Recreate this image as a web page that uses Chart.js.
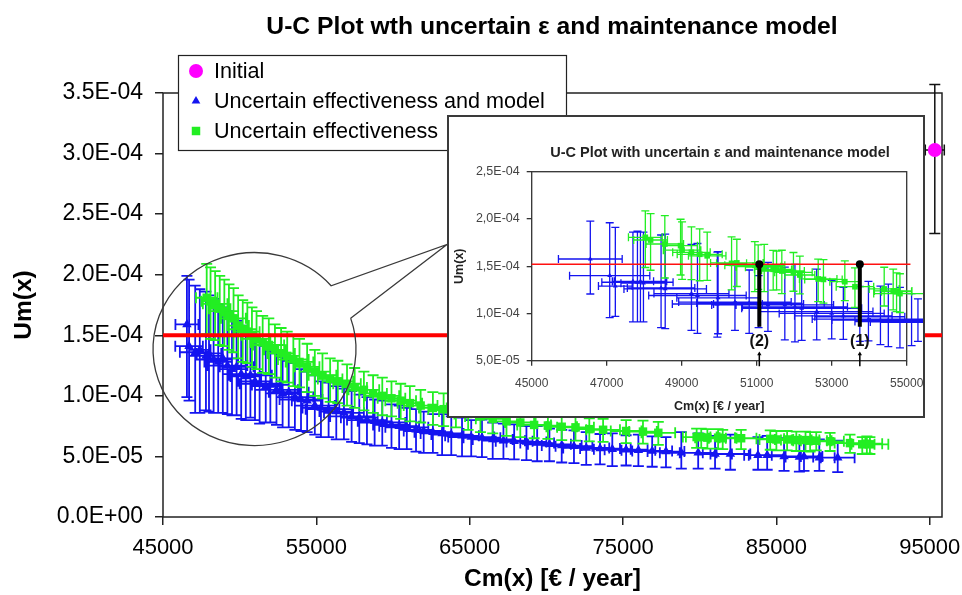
<!DOCTYPE html>
<html>
<head>
<meta charset="utf-8">
<script src="https://cdn.jsdelivr.net/npm/chart.js@4/dist/chart.umd.min.js"></script>
<style>
  html, body { margin: 0; padding: 0; background: #fff; }
  #wrap { position: relative; width: 962px; height: 595px; overflow: hidden; }
  #main { position: absolute; left: 0; top: 0; }
  #zoomBox { position: absolute; left: 447px; top: 115px; width: 478px; height: 303px;
             box-sizing: border-box; border: 2px solid #3a3a3a; background: #fff; overflow: hidden; }
  #inset { position: absolute; left: 0; top: 0; }
</style>
</head>
<body>
<div id="wrap">
  <canvas id="main" width="962" height="595"></canvas>
  <div id="zoomBox"><canvas id="inset" width="474" height="299"></canvas></div>
</div>
<script>
// ---------- data (Um values are given in units of 1e-4) ----------
const UM_UNIT = 1e-4;

const cmTicks = [45000, 55000, 65000, 75000, 85000, 95000];
const umTicks = [0, 0.5, 1.0, 1.5, 2.0, 2.5, 3.0, 3.5];
const umLimit = 1.5;

const initialCm = [95330];
const initialUm = [3.03];
const initialDx = [620];
const initialUp = [0.54];
const initialDn = [0.69];

// "Uncertain effectiveness and model"
const modelCm = [46560, 46700, 47100, 47400, 47800, 48000, 48300, 48600, 48900, 49200, 49500, 49800,
  50100, 50400, 50700, 51000, 51300, 51700, 52000, 52400, 52800, 53200, 53600, 54000, 54400, 54900,
  55300, 55800, 56300, 56800, 57300, 57800, 58300, 58800, 59300, 59900, 60400, 60900, 61500, 62000,
  62600, 63200, 63800, 64500, 65100, 65800, 66500, 67200, 67900, 68700, 69400, 70200, 71000, 71800,
  72600, 73500, 74300, 75200, 76000, 76900, 77800, 78800, 79900, 81000, 82000, 83800, 84400, 85500,
  86500, 86800, 87800, 89000];
const modelUm = [1.59, 1.41, 1.36, 1.38, 1.33, 1.35, 1.30, 1.28, 1.31, 1.25, 1.22, 1.24,
  1.18, 1.16, 1.17, 1.12, 1.10, 1.08, 1.09, 1.05, 1.02, 1.03, 0.99, 0.97, 0.96, 0.92,
  0.90, 0.89, 0.87, 0.86, 0.83, 0.82, 0.80, 0.79, 0.78, 0.76, 0.75, 0.74, 0.72, 0.71,
  0.70, 0.69, 0.68, 0.67, 0.66, 0.655, 0.64, 0.63, 0.625, 0.62, 0.61, 0.60, 0.59, 0.585,
  0.57, 0.565, 0.56, 0.555, 0.55, 0.545, 0.54, 0.53, 0.53, 0.52, 0.52, 0.51, 0.51, 0.50,
  0.495, 0.50, 0.49, 0.49];
const modelDx = [750, 900, 1000, 700, 1100, 800, 1200, 900, 1000, 1300, 900, 1100,
  1200, 1000, 1400, 1100, 1300, 1000, 1200, 1400, 1100, 1300, 1200, 1400, 1000, 1300,
  1200, 1500, 1100, 1300, 1400, 1200, 1300, 1100, 1500, 1200, 1300, 1400, 1100, 1300,
  1200, 1400, 1300, 1100, 1500, 1200, 1300, 1400, 1200, 1300, 1100, 1400, 1300, 1200,
  1500, 1300, 1200, 1400, 1100, 1300, 1200, 1400, 1200, 1100, 1300, 900, 1200, 1100,
  900, 1200, 1000, 1100];
const modelUp = [0.40, 0.55, 0.55, 0.50, 0.53, 0.48, 0.50, 0.47, 0.42, 0.45, 0.44, 0.38,
  0.40, 0.36, 0.33, 0.36, 0.32, 0.33, 0.28, 0.30, 0.30, 0.26, 0.28, 0.25, 0.24, 0.25,
  0.22, 0.22, 0.21, 0.20, 0.21, 0.19, 0.19, 0.18, 0.18, 0.17, 0.17, 0.16, 0.17, 0.16,
  0.15, 0.16, 0.15, 0.15, 0.14, 0.15, 0.14, 0.14, 0.14, 0.13, 0.14, 0.13, 0.13, 0.13,
  0.13, 0.12, 0.13, 0.12, 0.13, 0.12, 0.12, 0.17, 0.16, 0.15, 0.16, 0.15, 0.16, 0.15,
  0.15, 0.14, 0.15, 0.14];
const modelDn = [0.60, 0.45, 0.50, 0.52, 0.45, 0.48, 0.44, 0.42, 0.45, 0.40, 0.38, 0.40,
  0.37, 0.36, 0.35, 0.32, 0.33, 0.30, 0.31, 0.29, 0.28, 0.29, 0.27, 0.26, 0.26, 0.24,
  0.24, 0.23, 0.23, 0.22, 0.21, 0.21, 0.20, 0.20, 0.19, 0.19, 0.19, 0.18, 0.18, 0.18,
  0.17, 0.18, 0.17, 0.17, 0.16, 0.16, 0.16, 0.15, 0.15, 0.15, 0.15, 0.14, 0.14, 0.14,
  0.14, 0.13, 0.14, 0.13, 0.13, 0.13, 0.13, 0.13, 0.13, 0.12, 0.13, 0.12, 0.12, 0.12,
  0.12, 0.12, 0.11, 0.12];

// "Uncertain effectiveness"
const effCm = [47850, 48100, 48400, 48700, 49000, 49300, 49600, 49900, 50200, 50500, 50800, 51100,
  51500, 51900, 52300, 52700, 53100, 53500, 53900, 54400, 54900, 55400, 55900, 56400, 57000, 57500,
  58100, 58700, 59300, 59900, 60500, 61100, 61800, 62600, 63300, 64100, 64900, 65700, 66500, 67400,
  68300, 69200, 70100, 71000, 71900, 72800, 73700, 75200, 76300, 77300, 79800, 80100, 80500, 81200,
  81500, 82700, 84600, 85000, 85700, 86300, 86900, 87200, 87600, 88500, 89800, 90600, 90900, 91100];
const effUm = [1.81, 1.78, 1.76, 1.72, 1.70, 1.66, 1.64, 1.58, 1.55, 1.53, 1.50, 1.47,
  1.44, 1.42, 1.38, 1.35, 1.33, 1.30, 1.28, 1.24, 1.20, 1.17, 1.14, 1.12, 1.10, 1.07,
  1.05, 1.02, 1.00, 0.98, 0.96, 0.94, 0.92, 0.90, 0.89, 0.87, 0.85, 0.83, 0.81, 0.79,
  0.78, 0.76, 0.755, 0.745, 0.74, 0.725, 0.72, 0.71, 0.705, 0.695, 0.66, 0.66, 0.655, 0.655,
  0.65, 0.65, 0.645, 0.64, 0.64, 0.635, 0.635, 0.63, 0.63, 0.625, 0.61, 0.60, 0.605, 0.60];
const effDx = [700, 600, 800, 700, 900, 600, 800, 700, 900, 800, 700, 900,
  800, 1000, 700, 900, 800, 1000, 900, 800, 1000, 900, 800, 1000, 900, 800,
  1000, 900, 1100, 900, 1000, 800, 1100, 900, 1000, 1100, 900, 1000, 1100, 900,
  1000, 1100, 900, 1000, 1200, 900, 1100, 1000, 900, 1100, 900, 1000, 800, 1100,
  900, 1000, 900, 1100, 800, 1000, 900, 1100, 1000, 900, 1000, 800, 1000, 1200];
const effUp = [0.28, 0.28, 0.27, 0.27, 0.26, 0.26, 0.25, 0.25, 0.24, 0.24, 0.23, 0.23,
  0.22, 0.22, 0.21, 0.21, 0.20, 0.20, 0.19, 0.19, 0.18, 0.18, 0.17, 0.17, 0.16, 0.16,
  0.15, 0.15, 0.15, 0.14, 0.14, 0.14, 0.13, 0.13, 0.13, 0.12, 0.12, 0.12, 0.11, 0.11,
  0.11, 0.10, 0.10, 0.10, 0.10, 0.09, 0.09, 0.09, 0.09, 0.09, 0.07, 0.07, 0.07, 0.07,
  0.07, 0.07, 0.07, 0.07, 0.07, 0.07, 0.07, 0.07, 0.07, 0.07, 0.07, 0.06, 0.06, 0.06];
const effDn = [0.30, 0.31, 0.30, 0.30, 0.29, 0.28, 0.28, 0.27, 0.27, 0.26, 0.26, 0.25,
  0.25, 0.24, 0.23, 0.23, 0.22, 0.22, 0.21, 0.21, 0.20, 0.19, 0.19, 0.18, 0.18, 0.17,
  0.17, 0.16, 0.16, 0.15, 0.15, 0.15, 0.14, 0.14, 0.14, 0.13, 0.13, 0.13, 0.12, 0.12,
  0.12, 0.11, 0.11, 0.11, 0.11, 0.10, 0.10, 0.10, 0.10, 0.10, 0.09, 0.09, 0.09, 0.09,
  0.09, 0.09, 0.09, 0.09, 0.09, 0.09, 0.09, 0.09, 0.08, 0.08, 0.08, 0.08, 0.08, 0.08];

// detail view (45000 - 55000 €/year)
const zoomCmTicks = [45000, 47000, 49000, 51000, 53000, 55000];
const zoomUmTicks = [0.5, 1.0, 1.5, 2.0, 2.5];
const zoomUmLimit = 1.52;

const zoomModelCm = [46563, 47080, 47230, 47700, 47820, 47900, 47980, 48450, 48560, 49260, 49420, 49970,
  49950, 50420, 50800, 51050, 51300, 51750, 52020, 52200, 52600, 53000, 53310, 53750, 53980, 54300,
  54510, 54820, 55130, 55300];
const zoomModelUm = [1.576, 1.40, 1.29, 1.34, 1.33, 1.34, 1.32, 1.27, 1.26, 1.21, 1.19, 1.165,
  1.10, 1.12, 1.11, 1.10, 1.09, 1.09, 1.07, 1.055, 1.02, 1.00, 0.975, 0.965, 0.94, 0.93,
  0.93, 0.915, 0.91, 0.905];
const zoomModelDx = [850, 1070, 450, 550, 950, 700, 600, 900, 1100, 1000, 1300, 1100,
  1200, 1500, 1400, 1200, 1500, 1300, 1400, 1600, 1500, 1400, 1300, 1200, 1500, 1300,
  1500, 1200, 1100, 1000];
const zoomModelUp = [0.40, 0.56, 0.62, 0.52, 0.54, 0.52, 0.54, 0.56, 0.58, 0.52, 0.55, 0.49,
  0.55, 0.40, 0.35, 0.30, 0.45, 0.40, 0.45, 0.38, 0.45, 0.35, 0.30, 0.32, 0.40, 0.36,
  0.38, 0.36, 0.30, 0.25];
const zoomModelDn = [0.37, 0.445, 0.32, 0.43, 0.42, 0.43, 0.41, 0.42, 0.42, 0.39, 0.40, 0.38,
  0.35, 0.30, 0.32, 0.25, 0.28, 0.37, 0.37, 0.34, 0.30, 0.27, 0.25, 0.26, 0.23, 0.26,
  0.28, 0.28, 0.25, 0.20];

const zoomEffCm = [48030, 48170, 48550, 48970, 49010, 49260, 49480, 49680, 50330, 50470, 50950, 51040,
  51200, 51440, 51530, 51670, 51980, 52150, 52640, 52780, 53350, 53620, 54400, 54640, 54730, 54820];
const zoomEffUm = [1.806, 1.777, 1.735, 1.717, 1.67, 1.647, 1.626, 1.61, 1.53, 1.535, 1.51, 1.495,
  1.49, 1.467, 1.46, 1.449, 1.435, 1.407, 1.365, 1.36, 1.336, 1.283, 1.259, 1.238, 1.23, 1.21];
const zoomEffDx = [450, 450, 500, 450, 500, 500, 600, 500, 400, 700, 800, 600,
  500, 500, 400, 600, 500, 400, 500, 500, 400, 500, 400, 500, 400, 700];
const zoomEffUp = [0.28, 0.28, 0.30, 0.28, 0.30, 0.27, 0.27, 0.25, 0.28, 0.25, 0.25, 0.23,
  0.24, 0.20, 0.20, 0.22, 0.21, 0.20, 0.21, 0.21, 0.22, 0.20, 0.23, 0.23, 0.20, 0.21];
const zoomEffDn = [0.32, 0.32, 0.36, 0.31, 0.31, 0.29, 0.28, 0.26, 0.28, 0.25, 0.28, 0.24,
  0.26, 0.22, 0.21, 0.24, 0.20, 0.20, 0.24, 0.25, 0.20, 0.22, 0.18, 0.20, 0.21, 0.20];

// chosen operating points (1) and (2)
const cutLabels = ['(2)', '(1)'];
const cutCm = [51070, 53750];
const cutTopUm = [1.52, 1.52];
const cutBottomUm = [0.86, 0.86];

// ---------- styling ----------
const FONT = "'Liberation Sans', Arial, Helvetica, sans-serif";
const BLUE = '#1414f0';
const GREEN = '#22ee22';
const MAGENTA = '#ff00ff';

function sciLabel(v, sep) {
  if (Math.abs(v) < 1e-15) return '0' + sep + '0E+00';
  let e = Math.floor(Math.log10(Math.abs(v)) + 1e-9);
  let m = v / Math.pow(10, e);
  if (Math.round(m * 10) / 10 >= 10) { m /= 10; e += 1; }
  const es = (e < 0 ? '-' : '+') + String(Math.abs(e)).padStart(2, '0');
  return m.toFixed(1).replace('.', sep) + 'E' + es;
}

function points(xs, ys, dxs, ups, dns) {
  return xs.map((x, i) => ({
    x: x,
    y: ys[i] * UM_UNIT,
    dx: dxs ? dxs[i] : 0,
    up: ups ? ups[i] * UM_UNIT : 0,
    dn: dns ? dns[i] * UM_UNIT : 0
  }));
}

// keep the plotting area at its fixed size: labels may overhang the area
function fixedBox(size, horizontal) {
  return s => {
    if (horizontal) s.height = size; else s.width = size;
    s.paddingLeft = 0; s.paddingRight = 0; s.paddingTop = 0; s.paddingBottom = 0;
  };
}

// Error bars are drawn just before each dataset's markers (no clipping).
const errorBars = {
  id: 'errorBars',
  beforeDatasetDraw(chart, args) {
    const ds = chart.data.datasets[args.index];
    if (!ds.errorBars) return;
    const { color, width, cap } = ds.errorBars;
    const xs = chart.scales.x, ys = chart.scales.y, ctx = chart.ctx;
    const h = cap / 2;
    ctx.save();
    ctx.strokeStyle = color;
    ctx.lineWidth = width;
    ctx.beginPath();
    ds.data.forEach(p => {
      const px = xs.getPixelForValue(p.x), py = ys.getPixelForValue(p.y);
      if (p.dx) {
        const l = xs.getPixelForValue(p.x - p.dx), r = xs.getPixelForValue(p.x + p.dx);
        ctx.moveTo(l, py); ctx.lineTo(r, py);
        ctx.moveTo(l, py - h); ctx.lineTo(l, py + h);
        ctx.moveTo(r, py - h); ctx.lineTo(r, py + h);
      }
      if (p.up || p.dn) {
        const t = ys.getPixelForValue(p.y + p.up), b = ys.getPixelForValue(p.y - p.dn);
        ctx.moveTo(px, t); ctx.lineTo(px, b);
        ctx.moveTo(px - h, t); ctx.lineTo(px + h, t);
        ctx.moveTo(px - h, b); ctx.lineTo(px + h, b);
      }
    });
    ctx.stroke();
    ctx.restore();
  }
};

// Box around the plotting area
const frame = {
  id: 'frame',
  beforeDatasetsDraw(chart, args, opts) {
    const a = chart.chartArea, ctx = chart.ctx;
    ctx.save();
    ctx.strokeStyle = opts.color;
    ctx.lineWidth = opts.width;
    ctx.strokeRect(a.left, a.top, a.right - a.left, a.bottom - a.top);
    ctx.restore();
  }
};

// Title, callout and legend of the overview chart
const overviewDecor = {
  id: 'overviewDecor',
  afterDraw(chart, args, opts) {
    const ctx = chart.ctx, xs = chart.scales.x, ys = chart.scales.y;
    ctx.save();
    // title
    ctx.fillStyle = '#000';
    ctx.font = 'bold 24.7px ' + FONT;
    ctx.textAlign = 'center';
    ctx.textBaseline = 'alphabetic';
    ctx.fillText(opts.title, 552, 34);

    // magnifier callout
    const c = opts.callout;
    const cx = xs.getPixelForValue(c.cm), cy = ys.getPixelForValue(c.um * UM_UNIT);
    const tx = xs.getPixelForValue(c.tipCm), ty = ys.getPixelForValue(c.tipUm * UM_UNIT);
    const a0 = c.gapTo * Math.PI / 180, a1 = (c.gapFrom + 360) * Math.PI / 180;
    ctx.strokeStyle = '#3a3a3a';
    ctx.lineWidth = 1.3;
    ctx.beginPath();
    ctx.ellipse(cx, cy, c.rx, c.ry, 0, a0, a1);
    ctx.lineTo(tx, ty);
    ctx.lineTo(cx + c.rx * Math.cos(a0), cy + c.ry * Math.sin(a0));
    ctx.stroke();

    // legend
    const L = opts.legend;
    ctx.fillStyle = '#fff';
    ctx.fillRect(L.left, L.top, L.width, L.height);
    ctx.strokeStyle = '#222';
    ctx.lineWidth = 1.2;
    ctx.strokeRect(L.left + 0.5, L.top + 0.5, L.width, L.height);
    ctx.font = '21.6px ' + FONT;
    ctx.textAlign = 'left';
    ctx.textBaseline = 'middle';
    L.items.forEach((it, i) => {
      const ds = chart.data.datasets[it.dataset];
      const y = L.top + L.firstRow + i * L.rowGap;
      ctx.fillStyle = ds.backgroundColor;
      ctx.strokeStyle = ds.backgroundColor;
      Chart.helpers.drawPoint(ctx, { pointStyle: ds.pointStyle, radius: it.radius, rotation: 0, borderWidth: 0 },
        L.left + L.markerX, y);
      ctx.fillStyle = '#000';
      ctx.fillText(ds.label, L.left + L.textX, y + 1);
    });
    ctx.restore();
  }
};

new Chart(document.getElementById('main'), {
  type: 'scatter',
  plugins: [frame, errorBars, overviewDecor],
  data: {
    datasets: [
      {
        label: 'limit', type: 'line', order: 0,
        data: [{ x: 45000, y: umLimit * UM_UNIT }, { x: 95800, y: umLimit * UM_UNIT }],
        borderColor: '#ff0000', borderWidth: 4, pointRadius: 0, fill: false
      },
      {
        label: 'Initial', order: 1, clip: false,
        data: points(initialCm, initialUm, initialDx, initialUp, initialDn),
        pointStyle: 'circle', pointRadius: 7, backgroundColor: MAGENTA, borderColor: MAGENTA, borderWidth: 0,
        errorBars: { color: '#111', width: 1.5, cap: 11 }
      },
      {
        label: 'Uncertain effectiveness', order: 2, clip: false,
        data: points(effCm, effUm, effDx, effUp, effDn),
        pointStyle: 'rect', pointRadius: 6, backgroundColor: GREEN, borderColor: GREEN, borderWidth: 0,
        errorBars: { color: GREEN, width: 1.8, cap: 11 }
      },
      {
        label: 'Uncertain effectiveness and model', order: 3, clip: false,
        data: points(modelCm, modelUm, modelDx, modelUp, modelDn),
        pointStyle: 'triangle', pointRadius: 5.5, backgroundColor: BLUE, borderColor: BLUE, borderWidth: 0,
        errorBars: { color: BLUE, width: 1.8, cap: 11 }
      }
    ]
  },
  options: {
    responsive: false,
    animation: false,
    devicePixelRatio: 1,
    events: [],
    layout: { autoPadding: false, padding: { left: 0, top: 93, right: 20, bottom: 0 } },
    plugins: {
      legend: { display: false },
      tooltip: { enabled: false },
      frame: { color: '#222', width: 1.5 },
      overviewDecor: {
        title: 'U-C Plot wth uncertain ε and maintenance model',
        callout: { cm: 50967, um: 1.386, rx: 101.5, ry: 96.5, gapFrom: -41, gapTo: -18.7, tipCm: 63520, tipUm: 2.25 },
        legend: {
          left: 178, top: 55, width: 388, height: 95, firstRow: 16, rowGap: 30, markerX: 18, textX: 36,
          items: [{ dataset: 1, radius: 7 }, { dataset: 3, radius: 5 }, { dataset: 2, radius: 6 }]
        }
      }
    },
    scales: {
      x: {
        type: 'linear', min: 45000, max: 95800,
        afterBuildTicks: s => { s.ticks = cmTicks.map(v => ({ value: v })); },
        afterFit: fixedBox(78, true),
        border: { display: false },
        grid: { display: true, drawOnChartArea: false, drawTicks: true, tickLength: 8, color: '#222', lineWidth: 1.5 },
        ticks: { font: { family: FONT, size: 22 }, color: '#000', padding: 10, maxRotation: 0, autoSkip: false,
                 callback: v => String(v) },
        title: { display: true, text: 'Cm(x) [€ / year]', color: '#000',
                 font: { family: FONT, size: 24.5, weight: 'bold' }, padding: { top: 0, bottom: 1 } }
      },
      y: {
        type: 'linear', min: 0, max: 3.5e-4,
        afterBuildTicks: s => { s.ticks = umTicks.map(v => ({ value: v * UM_UNIT })); },
        afterFit: fixedBox(163, false),
        border: { display: false },
        grid: { display: true, drawOnChartArea: false, drawTicks: true, tickLength: 8, color: '#222', lineWidth: 1.5 },
        ticks: { font: { family: FONT, size: 23 }, color: '#000', padding: 12, autoSkip: false,
                 callback: v => sciLabel(v, '.') },
        title: { display: true, text: 'Um(x)', color: '#000',
                 font: { family: FONT, size: 24.5, weight: 'bold' }, padding: { top: 10, bottom: 0 } }
      }
    }
  }
});

// ---------- detail chart ----------
const detailDecor = {
  id: 'detailDecor',
  afterDraw(chart, args, opts) {
    const ctx = chart.ctx, xs = chart.scales.x, ys = chart.scales.y;
    ctx.save();
    ctx.fillStyle = '#222';
    ctx.font = 'bold 14.5px ' + FONT;
    ctx.textAlign = 'center';
    ctx.textBaseline = 'alphabetic';
    ctx.fillText(opts.title, 271, 40);
    ctx.fillStyle = '#111';
    ctx.font = 'bold 16px ' + FONT;
    ctx.textBaseline = 'middle';
    cutLabels.forEach((t, i) => {
      ctx.fillText(t, xs.getPixelForValue(cutCm[i]), ys.getPixelForValue(opts.labelUm * UM_UNIT));
    });
    ctx.restore();
  }
};

const cutDatasets = cutCm.map((cm, i) => ({
  label: cutLabels[i], type: 'line', order: 0, clip: false,
  data: [{ x: cm, y: cutTopUm[i] * UM_UNIT }, { x: cm, y: cutBottomUm[i] * UM_UNIT }],
  borderColor: '#000', borderWidth: 4, pointRadius: [4, 0], pointBackgroundColor: '#000', pointBorderWidth: 0
}));
const cutArrows = cutCm.map(cm => ({
  label: 'axis mark', type: 'line', order: 0, clip: false,
  data: [{ x: cm, y: 0.57 * UM_UNIT }, { x: cm, y: 0.44 * UM_UNIT }],
  borderColor: '#000', borderWidth: 1.5, pointStyle: 'triangle', pointRadius: 2.5,
  pointRotation: [0, 180], pointBackgroundColor: '#000', pointBorderWidth: 0
}));

new Chart(document.getElementById('inset'), {
  type: 'scatter',
  plugins: [frame, errorBars, detailDecor],
  data: {
    datasets: [
      ...cutDatasets,
      ...cutArrows,
      {
        label: 'limit', type: 'line', order: 1, clip: false,
        data: [{ x: 45000, y: zoomUmLimit * UM_UNIT }, { x: 55100, y: zoomUmLimit * UM_UNIT }],
        borderColor: '#ff1010', borderWidth: 1.5, pointRadius: 0
      },
      {
        label: 'Uncertain effectiveness', order: 2, clip: false,
        data: points(zoomEffCm, zoomEffUm, zoomEffDx, zoomEffUp, zoomEffDn),
        pointStyle: 'rect', pointRadius: 4, backgroundColor: GREEN, borderColor: GREEN, borderWidth: 0,
        errorBars: { color: GREEN, width: 1.3, cap: 8 }
      },
      {
        label: 'Uncertain effectiveness and model', order: 3, clip: false,
        data: points(zoomModelCm, zoomModelUm, zoomModelDx, zoomModelUp, zoomModelDn),
        pointStyle: 'triangle', pointRadius: 2.8, backgroundColor: BLUE, borderColor: BLUE, borderWidth: 0,
        errorBars: { color: BLUE, width: 1.3, cap: 8 }
      }
    ]
  },
  options: {
    responsive: false,
    animation: false,
    devicePixelRatio: 1,
    events: [],
    layout: { autoPadding: false, padding: { left: 0, top: 54.7, right: 16.3, bottom: 0 } },
    plugins: {
      legend: { display: false },
      tooltip: { enabled: false },
      frame: { color: '#333', width: 1.3 },
      detailDecor: { title: 'U-C Plot with uncertain ε and maintenance model', labelUm: 0.70 }
    },
    scales: {
      x: {
        type: 'linear', min: 45000, max: 55000,
        afterBuildTicks: s => { s.ticks = zoomCmTicks.map(v => ({ value: v })); },
        afterFit: fixedBox(55.3, true),
        border: { display: false },
        grid: { display: true, drawOnChartArea: false, drawTicks: true, tickLength: 5, color: '#333', lineWidth: 1.3 },
        ticks: { font: { family: FONT, size: 12 }, color: '#444', padding: 11, maxRotation: 0, autoSkip: false,
                 callback: v => String(v) },
        title: { display: true, text: 'Cm(x) [€ / year]', color: '#222',
                 font: { family: FONT, size: 12.5, weight: 'bold' }, padding: { top: 0, bottom: 2 } }
      },
      y: {
        type: 'linear', min: 5e-5, max: 2.5e-4,
        afterBuildTicks: s => { s.ticks = zoomUmTicks.map(v => ({ value: v * UM_UNIT })); },
        afterFit: fixedBox(82.7, false),
        border: { display: false },
        grid: { display: true, drawOnChartArea: false, drawTicks: true, tickLength: 5, color: '#333', lineWidth: 1.3 },
        ticks: { font: { family: FONT, size: 12.5 }, color: '#444', padding: 7, autoSkip: false,
                 callback: v => sciLabel(v, ',') },
        title: { display: true, text: 'Um(x)', color: '#222',
                 font: { family: FONT, size: 12.5, weight: 'bold' }, padding: { top: 3, bottom: 0 } }
      }
    }
  }
});
</script>
</body>
</html>
